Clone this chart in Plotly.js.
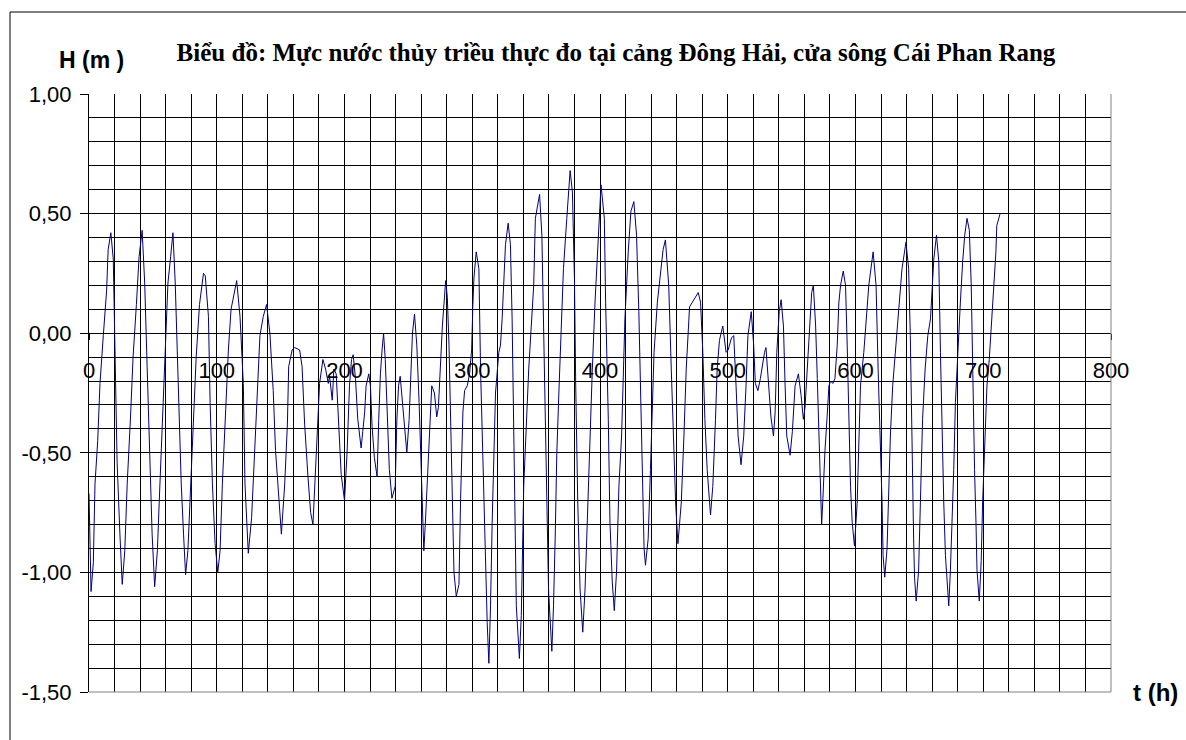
<!DOCTYPE html>
<html><head><meta charset="utf-8">
<script src="https://cdn.plot.ly/plotly-3.0.1.min.js"></script>
<style>html,body{margin:0;padding:0;background:#fff}#chart{width:1186px;height:740px}</style>
</head><body><div id="chart"></div>
<script>
const hours = [0,1.6,3.4,4.7,6.8,8.6,11.2,13.8,15,17.1,19,20.3,22,24.2,26,28,29.9,32.5,34.5,37.1,39.2,41.6,43.6,45.5,47.5,49.4,51.4,53.5,55.3,57.4,59.2,61.8,63.9,65.7,67.5,69.6,72.2,74,75.6,77.4,79.5,81.3,83.9,86.5,89.6,91,93.5,94.8,96.6,98.7,100.8,102.6,104.4,107,109.1,111.2,113.8,115.6,118.2,120.8,122.1,124.7,127.3,129.9,131.7,133.8,136.4,139,141.6,144.2,146,148.6,150.6,153.2,155.3,156.3,159,161,164.9,166.8,168.8,171.4,173.5,175.3,177.9,180.5,183.1,185.2,187.3,188.3,190.4,191.7,193.5,195,196.1,197.4,200,202,203.9,205.5,206.8,208.6,210.4,213,214.3,215.8,216.9,219,220.3,221.6,223.4,225.5,226.8,228.1,229.4,230.6,231.9,233.2,235.1,237.1,239.7,241,242.3,243.6,245.5,247,248.8,250.6,252.2,253.2,254.8,256.6,258.4,260,261,262.1,263.6,265.7,267,268.3,270.4,272.2,273.5,274.8,276.6,279.2,280.5,281.8,283.1,284.4,284.9,285.7,287.5,289.6,290.9,291.7,292.7,294,296.1,297.9,299.5,300.5,301.3,303.1,305.2,306.5,307.8,309.1,310.4,311.7,313,314.3,315.6,316.9,318.2,320.8,322.1,323.4,324.7,326,328.1,329.9,331.2,332.5,333.8,334.5,336.9,338.4,340.3,342.1,344.2,346.2,348.1,349.4,352.7,354.5,355.8,357.1,358.4,359.7,362.3,363.6,364.9,366.2,368,370.1,371.4,374,376.6,378.4,380,381,382.6,384.4,386.5,388.3,390.4,392.2,394,396.1,398.7,400.8,403.4,404.4,406.5,407.8,409.6,411.2,413,414.8,416.9,418.2,419.5,422.1,424.2,426.5,428.6,430.4,432.5,434,434.5,435.6,437.7,439.5,440.8,442.3,444.9,447.5,449.4,451.2,453.8,455.8,457.9,459.2,461,463.6,465.7,467.5,470.1,473.5,476.9,478.7,480.5,482.1,483.9,486.5,488.3,490.4,491.7,493.5,496.1,498.7,500.3,502.9,504.7,506.5,508.1,510.4,512.5,514.3,515.8,518.4,520.3,521.6,523.6,525.5,526.8,528.8,529.9,531.9,533.8,535.8,537.1,538.4,540.3,541.8,543.6,544.9,546.2,548.8,550.6,552.7,555.3,557.4,559.2,560.5,562.6,564.4,565.7,567,568.8,570.1,570.9,571.9,572.7,573.5,574.5,576.1,578,579.2,580.5,582.3,583.9,585.7,587,588.3,590.4,592.2,593.5,594.8,596.1,597.4,599.2,601.3,602.6,603.9,606.5,608.3,610.4,613.8,616.1,617.7,619.5,620.8,621.6,622.9,624.7,626,627.3,629.1,631.2,633.8,636.4,639.5,641.6,642.9,644.2,645.5,646.2,647.5,649.4,650.6,652.5,654.5,656.6,658.7,660,661.3,663.4,665.2,666.5,667.8,669.1,670.4,673,674.3,675.6,676.9,678.2,680,682.1,683.9,685.5,687.3,689.1,690.6,691.9,693.2,694.3,695.1,696.9,698.4,699.5,701,702.9,704.7,706.8,708.6,709.9,710.6,713.2];
const level = [-0.67,-1.08,-0.96,-0.63,-0.45,-0.21,-0.01,0.18,0.35,0.42,0.31,-0.07,-0.54,-0.84,-1.05,-0.91,-0.63,-0.35,-0.10,0.12,0.32,0.43,0.21,-0.14,-0.56,-0.84,-1.06,-0.91,-0.66,-0.40,-0.14,0.21,0.32,0.42,0.21,-0.21,-0.63,-0.84,-1.01,-0.91,-0.63,-0.38,-0.10,0.12,0.25,0.24,0.07,-0.29,-0.63,-0.88,-1.00,-0.91,-0.63,-0.32,-0.07,0.10,0.18,0.22,0.07,-0.21,-0.63,-0.92,-0.77,-0.49,-0.24,-0.01,0.07,0.12,0.00,-0.24,-0.49,-0.70,-0.84,-0.63,-0.38,-0.14,-0.07,-0.06,-0.07,-0.14,-0.38,-0.60,-0.75,-0.80,-0.49,-0.21,-0.11,-0.15,-0.21,-0.18,-0.28,-0.15,-0.17,-0.35,-0.45,-0.59,-0.70,-0.50,-0.22,-0.11,-0.09,-0.19,-0.36,-0.48,-0.41,-0.33,-0.22,-0.17,-0.22,-0.39,-0.52,-0.60,-0.36,-0.17,-0.07,0.00,-0.11,-0.33,-0.57,-0.69,-0.64,-0.36,-0.22,-0.18,-0.29,-0.41,-0.50,-0.36,-0.15,0.00,0.08,-0.05,-0.29,-0.53,-0.71,-0.91,-0.76,-0.50,-0.31,-0.22,-0.25,-0.35,-0.31,-0.15,0.03,0.22,0.15,-0.05,-0.33,-0.64,-0.83,-1.00,-1.10,-1.05,-0.69,-0.50,-0.33,-0.24,-0.22,-0.17,-0.07,0.12,0.23,0.34,0.27,-0.15,-0.41,-0.71,-1.00,-1.21,-1.38,-1.14,-0.79,-0.50,-0.25,-0.08,-0.05,0.06,0.20,0.37,0.46,0.37,0.06,-0.36,-0.86,-1.14,-1.36,-1.18,-0.64,-0.39,-0.15,0.03,0.20,0.48,0.58,0.41,0.06,-0.43,-0.78,-1.07,-1.33,-1.14,-0.86,-0.50,-0.22,0.06,0.27,0.48,0.68,0.59,0.23,-0.22,-0.71,-1.07,-1.25,-1.07,-0.71,-0.48,-0.15,0.13,0.41,0.62,0.48,0.13,-0.36,-0.79,-1.04,-1.16,-0.99,-0.64,-0.43,-0.22,0.06,0.34,0.51,0.55,0.41,0.09,-0.36,-0.71,-0.90,-0.97,-0.86,-0.57,-0.29,-0.08,0.13,0.27,0.35,0.39,0.20,-0.15,-0.50,-0.71,-0.88,-0.71,-0.43,-0.15,0.11,0.14,0.17,0.13,-0.08,-0.36,-0.57,-0.76,-0.64,-0.36,-0.15,-0.03,0.03,-0.08,-0.07,-0.02,-0.01,-0.22,-0.43,-0.55,-0.43,-0.22,-0.01,0.09,-0.05,-0.21,-0.24,-0.19,-0.14,-0.08,-0.06,-0.22,-0.35,-0.43,-0.33,-0.08,0.09,0.14,0.03,-0.22,-0.43,-0.51,-0.41,-0.22,-0.17,-0.26,-0.36,-0.31,-0.11,0.09,0.17,0.20,0.03,-0.19,-0.36,-0.53,-0.67,-0.80,-0.69,-0.49,-0.33,-0.22,-0.20,-0.21,-0.19,-0.05,0.13,0.20,0.26,0.20,-0.05,-0.33,-0.64,-0.79,-0.89,-0.71,-0.43,-0.22,-0.08,0.06,0.20,0.34,0.20,-0.15,-0.43,-0.71,-0.93,-1.02,-0.90,-0.64,-0.43,-0.22,-0.08,0.09,0.27,0.38,0.27,-0.01,-0.50,-0.86,-1.02,-1.12,-0.99,-0.71,-0.36,-0.15,-0.01,0.06,0.20,0.31,0.41,0.30,-0.08,-0.43,-0.71,-0.93,-1.14,-0.99,-0.79,-0.57,-0.29,-0.08,0.13,0.30,0.41,0.48,0.43,0.20,-0.22,-0.57,-0.79,-0.99,-1.12,-0.95,-0.71,-0.48,-0.22,-0.11,0.06,0.20,0.34,0.45,0.50];

const xTickVals = [0,100,200,300,400,500,600,700,800];
const xTickText = ['0','100','200','300','400','500','600','700','800'];
const yTickVals = [-1.5,-1,-0.5,0,0.5,1];
const yTickText = ['-1,50','-1,00','-0,50','0,00','0,50','1,00'];

const titleText = 'Biểu đồ: Mực nước thủy triều thực đo tại cảng Đông Hải, cửa sông Cái Phan Rang';
const yLabel = 'H (m )';
const xLabel = 't (h)';

const W = 1186, H = 740;
const L = 89, R = 1111, T = 94, B = 692;
const px = v => (v - L) / (R - L);
const py = v => (B - v) / (B - T);

const sans = 'Arial, "Liberation Sans", sans-serif';
const serif = '"Times New Roman", "Liberation Serif", serif';

const trace = {
  x: hours, y: level, type: 'scatter', mode: 'lines',
  line: {color: '#000080', width: 1},
  hoverinfo: 'x+y'
};

const layout = {
  width: W, height: H,
  margin: {l: L, r: W - R, t: T, b: H - B, pad: 0},
  paper_bgcolor: '#fff', plot_bgcolor: '#fff',
  showlegend: false,
  title: {
    text: titleText,
    font: {family: serif, size: 25, color: '#000', weight: 'bold'},
    xref: 'container', yref: 'container',
    x: 616 / W, xanchor: 'center', y: 1 - 52 / H, yanchor: 'middle'
  },
  xaxis: {
    range: [0, 800], anchor: 'free', position: 0.6,
    tickmode: 'array', tickvals: xTickVals, ticktext: xTickText,
    ticks: 'outside', ticklen: 6, tickcolor: '#000', tickwidth: 1,
    tickfont: {family: sans, size: 22, color: '#000'},
    ticklabelstandoff: 11,
    showline: true, linecolor: '#000', linewidth: 1,
    showgrid: true, gridcolor: '#000', gridwidth: 1,
    minor: {tickmode: 'linear', tick0: 0, dtick: 20, showgrid: true, gridcolor: '#000', gridwidth: 1, ticks: ''},
    zeroline: false, fixedrange: true
  },
  yaxis: {
    range: [-1.5, 1],
    tickmode: 'array', tickvals: yTickVals, ticktext: yTickText,
    ticks: 'outside', ticklen: 8, tickcolor: '#000', tickwidth: 1,
    tickfont: {family: sans, size: 22, color: '#000'},
    ticklabelstandoff: 4,
    showline: true, linecolor: '#000', linewidth: 1,
    showgrid: true, gridcolor: '#000', gridwidth: 1,
    minor: {tickmode: 'linear', tick0: 0, dtick: 0.1, showgrid: true, gridcolor: '#000', gridwidth: 1, ticks: ''},
    zeroline: false, fixedrange: true
  },
  shapes: [
    {type: 'line', xref: 'paper', yref: 'paper', x0: 1, x1: 1, y0: 0, y1: 1, line: {color: '#808080', width: 1}},
    {type: 'line', xref: 'paper', yref: 'paper', x0: 0, x1: 1, y0: 0, y1: 0, line: {color: '#808080', width: 1}},
    {type: 'line', xref: 'paper', yref: 'paper', x0: px(10), x1: px(1200), y0: py(12), y1: py(12), line: {color: '#000', width: 1}},
    {type: 'line', xref: 'paper', yref: 'paper', x0: px(10), x1: px(10), y0: py(12), y1: py(760), line: {color: '#000', width: 1}}
  ],
  annotations: [
    {text: yLabel, xref: 'paper', yref: 'paper', x: px(91), y: py(60), xanchor: 'center', yanchor: 'middle', showarrow: false,
     font: {family: sans, size: 23, color: '#000', weight: 'bold'}},
    {text: xLabel, xref: 'paper', yref: 'paper', x: px(1155), y: py(692), xanchor: 'center', yanchor: 'middle', showarrow: false,
     font: {family: sans, size: 24, color: '#000', weight: 'bold'}}
  ]
};

Plotly.newPlot('chart', [trace], layout, {displayModeBar: false, staticPlot: true});
</script>
</body></html>
